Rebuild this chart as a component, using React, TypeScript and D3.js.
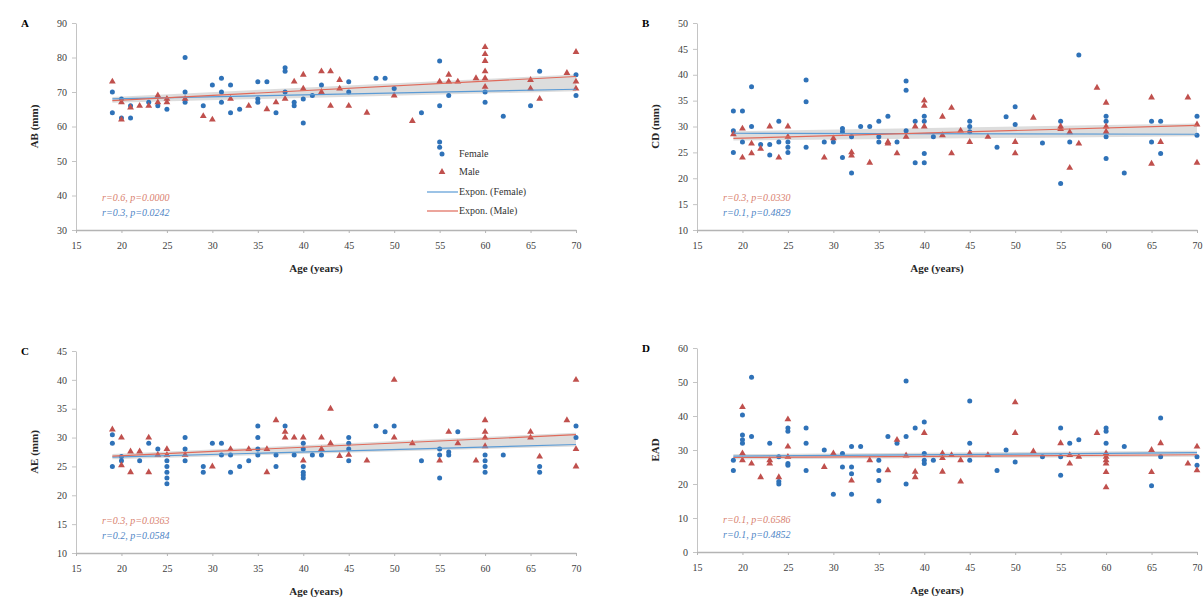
import { useEffect, useRef } from 'react';
import * as d3 from 'd3';

// ages on the x axis (same for all four panels)
const ageTicks = [15, 20, 25, 30, 35, 40, 45, 50, 55, 60, 65, 70];

// panel A - AB (mm)
const femaleA = [[19,64],[19,70],[20,68],[20,62.5],[21,62.5],[21,66],[23,67],[24,66],[25,65],[27,80],[27,70],[27,67],[29,66],[30,72],[31,74],[31,70],[31,67],[32,72],[32,64],[33,65],[35,73],[35,68],[35,67],[36,73],[37,64],[38,77],[38,76],[38,70],[39,66],[39,67],[40,68],[40,61],[41,69],[42,72],[45,73],[45,70],[48,74],[49,74],[50,71],[53,64],[55,79],[55,66],[55,55.5],[55,54],[56,69],[60,70],[60,67],[62,63],[65,66],[66,76],[70,75],[70,69]];
const maleA = [[19,73],[20,67],[20,62],[21,65.5],[22,66],[23,66],[24,69],[24,67],[25,67],[25,68],[27,68],[29,63],[30,62],[32,68],[34,66],[36,65],[37,67],[38,68],[39,73],[40,75],[40,71],[42,76],[42,70],[43,76],[43,66],[44,73.5],[44,71],[45,66],[47,64],[50,69],[52,61.6],[55,73],[56,75],[56,73],[57,73],[59,74],[60,83],[60,81],[60,79],[60,76],[60,74],[60,71.5],[65,73.5],[65,71],[66,68],[69,75.5],[70,81.6],[70,73],[70,71]];
const ticksA = [30, 40, 50, 60, 70, 80, 90];
const trendA = { female: [68, 70.8], male: [67.5, 74.5] };

// panel B - CD (mm)
const femaleB = [[19,33],[19,29.2],[19,25],[20,33],[20,27],[21,37.7],[21,30],[22,26.5],[23,26.5],[23,24.5],[24,31],[24,27],[25,27],[25,26],[25,25],[27,39],[27,34.8],[27,26],[29,27],[30,27],[31,29.6],[31,29],[31,24],[32,28],[32,21],[33,30],[34,30],[35,31],[35,28],[35,27],[36,32],[37,27],[38,38.8],[38,37],[38,29.2],[39,31],[39,23],[40,32],[40,31],[40,24.8],[40,23],[41,28],[45,31],[45,30],[45,29],[48,26],[49,31.9],[50,33.8],[50,30.4],[53,26.8],[55,19],[55,31],[56,27],[57,43.8],[60,32],[60,31],[60,28],[60,23.8],[62,21],[65,31],[65,27],[66,31],[66,24.8],[70,32],[70,28.3]];
const maleB = [[19,28.5],[20,29.6],[20,24],[21,26.7],[21,24.8],[22,25.7],[23,30],[24,24],[25,30],[25,28],[29,24],[30,27.7],[32,25],[32,24.4],[34,23],[36,27],[36,26.7],[37,24.8],[38,28],[39,30],[40,35],[40,34],[40,30],[42,31.9],[42,28.3],[43,33.6],[43,24.8],[44,29.2],[45,27],[47,28],[50,27],[50,24.8],[52,31.7],[55,30],[55,29.5],[56,28.9],[56,22],[57,26.7],[59,37.5],[60,34.6],[60,30],[60,29],[65,35.6],[65,22.8],[66,27],[69,35.6],[70,30.4],[70,23]];
const ticksB = [10, 15, 20, 25, 30, 35, 40, 45, 50];
const trendB = { female: [28.7, 28.5], male: [27.7, 30.2] };

// panel C - AE (mm)
const femaleC = [[19,30.5],[19,29],[19,25],[20,26.7],[20,26],[22,26],[23,29],[24,28],[25,26],[25,25],[25,24],[25,23],[25,22],[27,30],[27,28],[27,26],[29,25],[29,24],[30,29],[31,29],[31,27],[32,27],[32,24],[33,25],[34,26],[35,32],[35,30],[35,28],[35,27],[37,27],[37,25],[38,32],[39,27],[40,29],[40,28],[40,25],[40,24],[40,23.5],[40,23],[41,27],[42,27],[45,30],[45,29],[45,28],[45,26],[48,32],[49,31],[50,32],[53,26],[55,28],[55,27],[55,23],[56,27.5],[56,27],[57,31],[60,27],[60,26],[60,25],[60,24],[62,27],[66,25],[66,24],[70,32],[70,30]];
const maleC = [[19,31.4],[20,30],[20,25.2],[21,27.6],[21,24],[22,27.6],[23,30],[23,24],[24,27],[25,28],[25,27],[27,27],[30,25],[32,28],[34,28],[36,28],[36,24],[37,33],[38,31],[38,30],[39,30],[40,30],[40,26],[42,30],[42,28],[43,35],[43,29],[44,26.8],[45,27],[47,26],[50,40],[50,30],[52,29],[55,26],[56,31],[57,29],[59,26],[60,33],[60,31],[60,30],[60,28.5],[65,31],[65,30],[66,26.7],[69,33],[70,40],[70,28],[70,25]];
const ticksC = [10, 15, 20, 25, 30, 35, 40, 45];
const trendC = { female: [26.6, 28.8], male: [26.8, 30.5] };

// panel D - EAD
const femaleD = [[19,27],[19,24],[20,40.3],[20,34.4],[20,33],[20,32],[21,51.4],[21,34],[23,32],[24,28],[24,20.7],[24,20],[25,36.5],[25,35.5],[25,26],[25,25.5],[27,36.5],[27,32],[27,24],[29,30],[30,17],[31,29],[31,25],[32,25],[32,23],[32,17],[32,31],[33,31],[35,27],[35,24],[35,21],[35,15],[36,34],[37,32],[38,50.3],[38,34],[38,20],[39,36.5],[40,38.2],[40,29],[40,27],[40,26],[41,27],[45,44.4],[45,32],[45,27],[48,24],[49,30],[50,26.5],[53,28],[55,36.5],[55,28],[55,22.6],[56,32],[57,33],[60,36.5],[60,35.5],[60,32],[62,31],[65,19.5],[66,39.4],[66,28],[70,28],[70,25.5]];
const maleD = [[20,42.6],[20,29],[20,27],[21,26],[22,22],[23,27],[23,26],[24,22],[25,39],[25,31],[25,28],[29,25],[30,29],[32,21],[34,27],[36,24],[37,33],[38,28.4],[39,23.6],[39,22],[40,35],[42,29],[42,27.6],[42,23.6],[43,28.5],[44,27],[44,20.7],[45,29],[47,28.5],[50,44],[50,35],[52,29.6],[55,32],[56,28.5],[56,26],[57,28],[59,35],[60,29],[60,28],[60,27],[60,26],[60,23.5],[60,19],[65,30],[65,23.5],[66,32],[69,26],[70,31],[70,24]];
const ticksD = [0, 10, 20, 30, 40, 50, 60];
const trendD = { female: [28.2, 29.2], male: [27.8, 28.6] };

const BLUE = '#2f72b8';
const RED = '#c0504d';
const FONT = '"Liberation Serif", "DejaVu Serif", serif';

function Panel({ x0, y0, w, h, letter, title, female, male, yTicks, trend, stats, legend }) {
  const axisX = useRef(null);
  const axisY = useRef(null);
  const xs = d3.scaleLinear().domain([15, 70]).range([0, w]);
  const ys = d3.scaleLinear().domain([yTicks[0], yTicks[yTicks.length - 1]]).range([h, 0]);

  useEffect(() => {
    const gx = d3.select(axisX.current);
    gx.selectAll('*').remove();
    gx.call(d3.axisBottom(xs).tickValues(ageTicks).tickSize(3).tickSizeOuter(0));
    gx.select('.domain').attr('stroke', '#b4b4b4').attr('stroke-width', 1.6);
    gx.selectAll('.tick line').attr('stroke', '#b4b4b4');
    gx.selectAll('.tick text').attr('dy', 13).attr('fill', '#404040')
      .style('font-family', FONT).style('font-size', '10px');

    const gy = d3.select(axisY.current);
    gy.selectAll('*').remove();
    gy.call(d3.axisLeft(ys).tickValues(yTicks).tickSize(4).tickSizeOuter(0));
    gy.select('.domain').attr('stroke', '#c4c4c4');
    gy.selectAll('.tick line').attr('stroke', '#c4c4c4');
    gy.selectAll('.tick text').attr('x', -9).attr('fill', '#404040')
      .style('font-family', FONT).style('font-size', '10px');
  });

  const fLine = [[19, trend.female[0]], [70, trend.female[1]]];
  const mLine = [[19, trend.male[0]], [70, trend.male[1]]];
  const line = d3.line().x(d => xs(d[0])).y(d => ys(d[1]));
  const band = d3.area()
    .x(d => xs(d[0]))
    .y0(d => Math.max(ys(d[1]), ys(d[2])) + 2)
    .y1(d => Math.min(ys(d[1]), ys(d[2])) - 2);
  const bandData = [[19, trend.female[0], trend.male[0]], [70, trend.female[1], trend.male[1]]];
  const tri = d3.symbol(d3.symbolTriangle, 20)();

  return (
    <g transform={`translate(${x0},${y0})`} style={{ fontFamily: FONT }}>
      <text x={-55} y={4} fontWeight="bold" fontSize={11}>{letter}</text>
      <text transform={`translate(${-38},${h / 2}) rotate(-90)`} textAnchor="middle"
        fontWeight="bold" fontSize={11} fill="#262626">{title}</text>
      <text x={w / 2 - 10} y={h + 42} textAnchor="middle" fontWeight="bold" fontSize={11} fill="#262626">Age (years)</text>
      <path d={band(bandData)} fill="#cfcfcf" opacity={0.7} />
      {female.map((d, i) => (
        <circle key={'f' + i} cx={xs(d[0])} cy={ys(d[1])} r={2.5} fill={BLUE} />
      ))}
      {male.map((d, i) => (
        <path key={'m' + i} d={tri} transform={`translate(${xs(d[0])},${ys(d[1])})`} fill={RED} />
      ))}
      <path d={line(fLine)} stroke="#5b9bd5" strokeWidth={1.2} fill="none" />
      <path d={line(mLine)} stroke="#e06a5a" strokeWidth={1.2} fill="none" />
      <g ref={axisY} />
      <g ref={axisX} transform={`translate(0,${h})`} />
      <text x={26} y={h - 29} fontSize={10} fontStyle="italic" fill="#d9826f">{stats[0]}</text>
      <text x={26} y={h - 14} fontSize={10} fontStyle="italic" fill="#4f86c6">{stats[1]}</text>
      {legend && (
        <g transform={`translate(${w - 149},${h - 95})`} fontSize={10} fill="#333">
          <circle cx={15} cy={19} r={2.5} fill={BLUE} />
          <text x={32} y={22}>Female</text>
          <path d={tri} transform="translate(15,37)" fill={RED} />
          <text x={32} y={40}>Male</text>
          <line x1={0} x2={31} y1={57} y2={57} stroke="#5b9bd5" strokeWidth={1.2} />
          <text x={32} y={60}>Expon. (Female)</text>
          <line x1={0} x2={31} y1={76} y2={76} stroke="#e06a5a" strokeWidth={1.2} />
          <text x={32} y={79}>Expon. (Male)</text>
        </g>
      )}
    </g>
  );
}

export default function App() {
  return (
    <svg width={1203} height={604} style={{ position: 'absolute', left: 0, top: 0, background: '#fff' }}>
      <Panel x0={76} y0={23} w={500} h={207} letter="A" title="AB (mm)" female={femaleA} male={maleA}
        yTicks={ticksA} trend={trendA} stats={['r=0.6, p=0.0000', 'r=0.3, p=0.0242']} legend />
      <Panel x0={697} y0={23} w={500} h={207} letter="B" title="CD (mm)" female={femaleB} male={maleB}
        yTicks={ticksB} trend={trendB} stats={['r=0.3, p=0.0330', 'r=0.1, p=0.4829']} />
      <Panel x0={76} y0={351} w={500} h={202} letter="C" title="AE (mm)" female={femaleC} male={maleC}
        yTicks={ticksC} trend={trendC} stats={['r=0.3, p=0.0363', 'r=0.2, p=0.0584']} />
      <Panel x0={697} y0={348} w={500} h={204} letter="D" title="EAD" female={femaleD} male={maleD}
        yTicks={ticksD} trend={trendD} stats={['r=0.1, p=0.6586', 'r=0.1, p=0.4852']} />
    </svg>
  );
}
